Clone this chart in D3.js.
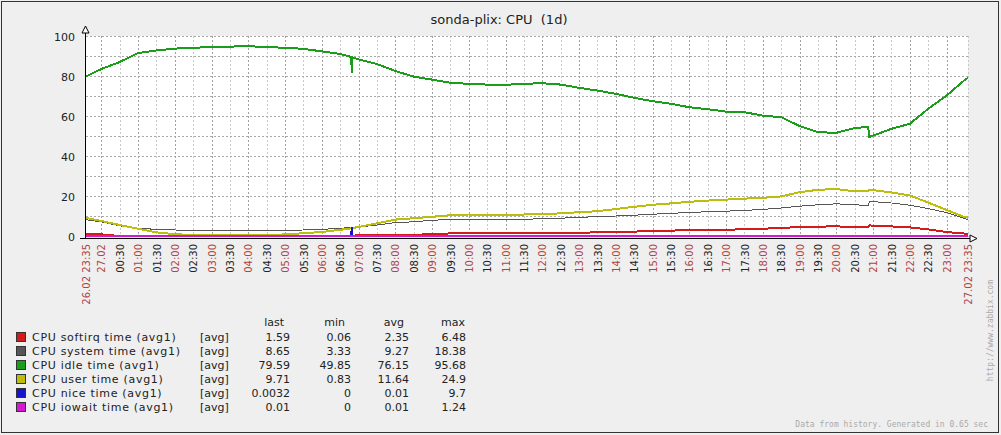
<!DOCTYPE html>
<html>
<head>
<meta charset="utf-8">
<script src="https://cdn.jsdelivr.net/npm/d3@7"></script>
<style>
  body { margin: 0; background: #efefef; }
  svg { display: block; }
  text { font-family: "DejaVu Sans", sans-serif; }
</style>
</head>
<body>
<div id="chart"></div>
<script>
var width = 1001,
	height = 435;

var margin = { top: 37, left: 86, right: 968, bottom: 237 };

///////////////////////////////////////////////////////////////////////////
////////////////////////////////// Data ///////////////////////////////////
///////////////////////////////////////////////////////////////////////////

//first entry is 26.02, the rest is 27.02
var times = ["23:35","00:00","00:30","01:00","01:30","02:00","02:30","03:00","03:30","04:00",
	"04:30","05:00","05:30","06:00","06:30","06:48","06:49","06:50","07:00","07:30",
	"08:00","08:30","09:00","09:30","10:00","10:30","11:00","11:30","12:00","12:30",
	"13:00","13:30","14:00","14:30","15:00","15:30","16:00","16:30","17:00","17:30",
	"18:00","18:30","19:00","19:30","20:00","20:30","20:52","20:54","21:00","21:30",
	"22:00","22:30","23:00","23:30","23:35"];

var softirq = [1.6,1.3,0.4,0.3,0.3,0.3,0.3,0.3,0.3,0.3,
	0.3,0.3,0.35,0.4,0.6,0.7,0.7,0.7,0.8,0.9,
	1.0,1.2,1.3,1.8,1.9,1.9,1.9,1.9,1.9,1.9,
	2.0,2.4,2.6,2.7,3.0,3.2,3.4,3.6,3.7,3.8,
	4.1,4.6,4.9,5.2,5.3,5.0,4.9,5.8,5.7,5.3,
	4.8,3.8,2.5,1.7,1.59];

var system = [8.6,7.6,5.6,4.4,3.8,3.5,3.4,3.4,3.35,3.4,
	3.4,3.4,3.5,3.8,4.4,4.7,4.7,4.8,5.0,6.0,
	7.2,7.6,8.4,8.7,8.8,8.9,8.9,8.9,9.1,9.4,
	9.8,10.2,10.5,10.9,11.4,11.8,12.3,12.6,12.9,13.3,
	13.8,14.5,15.4,16.1,16.6,16.1,15.8,17.8,17.7,17.0,
	15.9,14.2,12.2,9.2,8.65];

var idle = [80.2,84,87.5,92,93.3,94.2,94.6,95,95.2,95.4,
	95,94.6,94.1,92.8,91.5,90,82,89.8,88.8,86.5,
	83,80.2,78.7,77.1,76.6,76.2,76.1,76.6,76.9,76.2,
	74.6,73.2,71.6,69.6,67.9,66.6,64.9,63.9,62.7,62.4,
	60.7,59.9,55.5,52.4,52.1,54.5,55,50,50.7,54.1,
	56.6,64.1,70.7,78.6,79.59];

var user = [9.5,8.0,6.0,4.1,2.3,1.4,1.0,0.9,0.9,0.95,
	1.0,1.3,1.9,2.5,3.6,4.3,4.4,4.5,5.0,6.8,
	8.7,9.4,10.1,10.9,11.25,11.25,11.25,11.25,11.5,11.8,
	12.4,12.9,14.0,15.1,16.1,16.8,17.6,18.2,18.7,19.2,
	19.6,20.3,22.4,23.6,24.0,22.8,22.8,23.6,23.4,22.3,
	20.8,17.2,13.5,9.9,9.71];

var nice = [0,0,0,0,0,0,0,0,0,0,
	0,0,0,0,0,0,5.0,0,0,0,
	0,0,0,0,0,0,0,0,0,0,
	0,0,0,0,0,0,0,0,0,0,
	0,0,0,0,0,0,0,0,0,0,
	0,0,0,0,0.0032];

var iowait = [0.01,0.01,0.01,0.01,0.01,0.01,0.01,0.01,0.01,0.01,
	0.01,0.01,0.01,0.01,0.01,0.01,0.01,0.01,0.01,0.01,
	0.01,0.01,0.01,0.01,0.01,0.01,0.01,0.01,0.01,0.01,
	0.01,0.01,0.01,0.01,0.01,0.01,0.01,0.01,0.01,0.01,
	0.01,0.01,0.01,0.01,0.01,0.01,0.01,0.01,0.01,0.01,
	0.01,0.01,0.01,0.01,0.01];

var seriesNames = ["CPU softirq time (avg1)", "CPU system time (avg1)", "CPU idle time (avg1)",
	"CPU user time (avg1)", "CPU nice time (avg1)", "CPU iowait time (avg1)"];
var seriesColors = ["#d21c1c", "#555555", "#1a9e1a", "#bdbd0c", "#1414cc", "#d21ad2"];
var seriesWidths = [2, 1, 2, 2, 2, 2];
var statLast = ["1.59", "8.65", "79.59", "9.71", "0.0032", "0.01"];
var statMin = ["0.06", "3.33", "49.85", "0.83", "0", "0"];
var statAvg = ["2.35", "9.27", "76.15", "11.64", "0.01", "0.01"];
var statMax = ["6.48", "18.38", "95.68", "24.9", "9.7", "1.24"];

var yTicks = [0, 20, 40, 60, 80, 100];

///////////////////////////////////////////////////////////////////////////
///////////////////////////////// Scales //////////////////////////////////
///////////////////////////////////////////////////////////////////////////

//minutes counted from 26.02 00:00
function toMinutes(t, i) {
	var p = t.split(":");
	return (i === 0 ? 0 : 1440) + (+p[0]) * 60 + (+p[1]);
}
var minutes = times.map(toMinutes);

var x = d3.scaleLinear()
	.domain([minutes[0], minutes[minutes.length - 1]])
	.range([margin.left, margin.right]);
var y = d3.scaleLinear()
	.domain([0, 100])
	.range([margin.bottom, margin.top]);

var svg = d3.select("#chart").append("svg")
	.attr("width", width)
	.attr("height", height);

svg.append("rect")
	.attr("x", 1.5).attr("y", 1.5)
	.attr("width", 997).attr("height", 431)
	.style("fill", "#efefef")
	.style("stroke", "#333")
	.style("stroke-width", 1);

//title
svg.append("text")
	.attr("x", 499)
	.attr("y", 24)
	.style("text-anchor", "middle")
	.style("font-size", "13px")
	.style("fill", "#222")
	.attr("xml:space", "preserve")
	.text("sonda-plix: CPU  (1d)");

//plot background
svg.append("rect")
	.attr("x", margin.left).attr("y", margin.top - 1)
	.attr("width", margin.right - margin.left)
	.attr("height", margin.bottom - margin.top + 1)
	.style("fill", "#fff");

///////////////////////////////////////////////////////////////////////////
////////////////////////////////// Grid ///////////////////////////////////
///////////////////////////////////////////////////////////////////////////

//00:00 .. 23:00 of 27.02 (23:30 sits too close to the end, zabbix drops it)
var halfHours = d3.range(1440, 1440 + 23 * 60 + 1, 30);

var grid = svg.append("g").attr("class", "grid").style("shape-rendering", "crispEdges");

grid.selectAll(".vgrid")
	.data(halfHours.concat([minutes[minutes.length - 1]]))
	.enter().append("line")
	.attr("x1", function(d) { return Math.round(x(d)) + 0.5; })
	.attr("x2", function(d) { return Math.round(x(d)) + 0.5; })
	.attr("y1", margin.top - 1)
	.attr("y2", margin.bottom)
	.style("stroke", function(d) { return d % 60 === 0 ? "#a0a0a0" : "#c8c8c8"; })
	.style("stroke-dasharray", "2,2");

grid.selectAll(".hgrid")
	.data(d3.range(10, 101, 10))
	.enter().append("line")
	.attr("x1", margin.left)
	.attr("x2", margin.right)
	.attr("y1", function(d) { return Math.round(y(d)) - 0.5; })
	.attr("y2", function(d) { return Math.round(y(d)) - 0.5; })
	.style("stroke", "#a8a8a8")
	.style("stroke-dasharray", "2,2");

///////////////////////////////////////////////////////////////////////////
////////////////////////////////// Lines //////////////////////////////////
///////////////////////////////////////////////////////////////////////////

var allSeries = [softirq, system, idle, user, nice, iowait];

var line = d3.line()
	.x(function(d, i) { return x(minutes[i]); })
	.y(function(d) { return Math.min(y(d), margin.bottom - 1); });

svg.append("g").selectAll("path")
	.data(allSeries)
	.enter().append("path")
	.attr("d", line)
	.style("fill", "none")
	.style("stroke", function(d, i) { return seriesColors[i]; })
	.style("stroke-width", function(d, i) { return seriesWidths[i]; })
	.style("stroke-linejoin", "miter")
	.style("shape-rendering", "crispEdges");

///////////////////////////////////////////////////////////////////////////
////////////////////////////////// Axes ///////////////////////////////////
///////////////////////////////////////////////////////////////////////////

var axes = svg.append("g").style("shape-rendering", "crispEdges");
axes.append("line")
	.attr("x1", margin.left - 6).attr("x2", margin.right + 2)
	.attr("y1", margin.bottom + 1.5).attr("y2", margin.bottom + 1.5)
	.style("stroke", "#000").style("stroke-width", 1.5);
axes.append("line")
	.attr("x1", margin.left - 0.5).attr("x2", margin.left - 0.5)
	.attr("y1", 33).attr("y2", margin.bottom + 2)
	.style("stroke", "#000").style("stroke-width", 1.5);

//arrows
svg.append("path")
	.attr("d", "M" + (margin.left - 4) + ",33 L" + (margin.left + 3) + ",33 L" + (margin.left - 0.5) + ",26 Z")
	.style("fill", "#fff").style("stroke", "#000").style("stroke-width", 1);
svg.append("path")
	.attr("d", "M" + (margin.right + 2) + "," + (margin.bottom - 2) + " L" + (margin.right + 2) + "," + (margin.bottom + 5) +
		" L" + (margin.right + 9) + "," + (margin.bottom + 1.5) + " Z")
	.style("fill", "#fff").style("stroke", "#000").style("stroke-width", 1);

svg.selectAll(".ylabel")
	.data(yTicks)
	.enter().append("text")
	.attr("x", 75)
	.attr("y", function(d) { return y(d); })
	.attr("dy", "0.38em")
	.style("text-anchor", "end")
	.style("font-size", "11px")
	.style("fill", "#222")
	.text(function(d) { return d; });

//time labels
var red = "#b04444";
var xLabels = [{ m: minutes[0], t: "26.02 23:35", c: red }];
halfHours.forEach(function(m) {
	var h = Math.floor((m - 1440) / 60), mm = m % 60;
	var txt = m === 1440 ? "27.02" : d3.format("02")(h) + ":" + d3.format("02")(mm);
	xLabels.push({ m: m, t: txt, c: mm === 0 ? red : "#222" });
});
xLabels.push({ m: minutes[minutes.length - 1], t: "27.02 23:35", c: red });

svg.selectAll(".xlabel")
	.data(xLabels)
	.enter().append("text")
	.attr("transform", function(d) { return "translate(" + (x(d.m) + 0.5) + ",244) rotate(-90)"; })
	.attr("dy", "0.36em")
	.style("text-anchor", "end")
	.style("font-size", "10px")
	.style("fill", function(d) { return d.c; })
	.text(function(d) { return d.t; });

///////////////////////////////////////////////////////////////////////////
///////////////////////////////// Legend //////////////////////////////////
///////////////////////////////////////////////////////////////////////////

var cols = [{ x: 290, v: statLast, h: "last", hx: 284 },
	{ x: 351, v: statMin, h: "min", hx: 345 },
	{ x: 409, v: statAvg, h: "avg", hx: 404 },
	{ x: 466, v: statMax, h: "max", hx: 465 }];

var legend = svg.append("g").style("font-size", "11px").style("fill", "#222");

cols.forEach(function(c) {
	legend.append("text")
		.attr("x", c.hx).attr("y", 326)
		.style("text-anchor", "end")
		.text(c.h);
});

var row = legend.selectAll(".row")
	.data(seriesNames)
	.enter().append("g")
	.attr("transform", function(d, i) { return "translate(0," + (332 + i * 14) + ")"; });

row.append("rect")
	.attr("x", 16.5).attr("y", 0.5)
	.attr("width", 9).attr("height", 9)
	.style("fill", function(d, i) { return seriesColors[i]; })
	.style("stroke", "#333");
row.append("text")
	.attr("x", 32).attr("y", 9)
	.style("letter-spacing", "0.7px")
	.text(function(d) { return d; });
row.append("text")
	.attr("x", 200).attr("y", 9)
	.text("[avg]");
cols.forEach(function(c) {
	row.append("text")
		.attr("x", c.x).attr("y", 9)
		.style("text-anchor", "end")
		.text(function(d, i) { return c.v[i]; });
});

//footer
svg.append("text")
	.attr("x", 988).attr("y", 427)
	.style("text-anchor", "end")
	.style("font-family", "'DejaVu Sans Mono', monospace")
	.style("font-size", "8px")
	.style("fill", "#aaa")
	.text("Data from history. Generated in 0.65 sec");
svg.append("text")
	.attr("transform", "translate(990,280) rotate(-90)")
	.attr("dy", "0.35em")
	.style("text-anchor", "end")
	.style("font-family", "'DejaVu Sans Mono', monospace")
	.style("font-size", "8px")
	.style("fill", "#aaa")
	.text("http://www.zabbix.com");
</script>
</body>
</html>
